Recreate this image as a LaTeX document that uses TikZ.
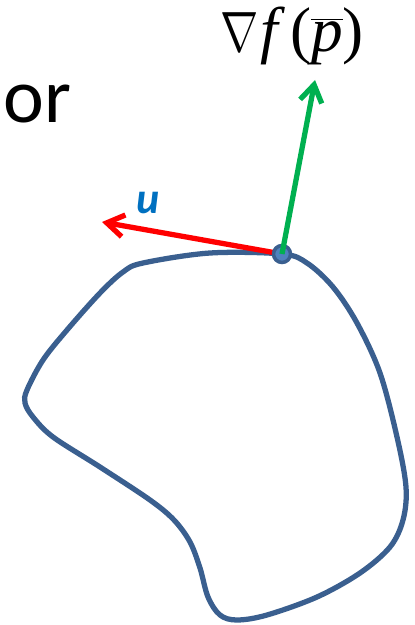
\documentclass[tikz,border=0pt]{standalone}
\usepackage{fontspec}
\newfontfamily\calibrifont{Carlito}
\newfontfamily\serifrm{Liberation Serif}
\usepackage{tikz}
\usetikzlibrary{arrows.meta, positioning}
\definecolor{blobcolor}{HTML}{3A5F8F}
\definecolor{dotfill}{HTML}{4F81BD}
\definecolor{gradgreen}{HTML}{00B050}
\definecolor{ublue}{HTML}{0070C0}

\begin{document}
\begin{tikzpicture}[
    x=0.02cm, y=-0.02cm,
    pt/.style={circle, fill=dotfill, draw=blobcolor, line width=2pt, inner sep=0pt, minimum size=0.34cm},
    lf/.style={inner sep=0pt, anchor=base west},
    vec/.style={line width=3pt, -{Straight Barb[length=0.34cm, width=0.44cm, line width=3pt]}},
    blob/.style={draw=blobcolor, line width=3pt}
  ]
    \useasboundingbox (0,0) rectangle (415,625);
    % region boundary
    \draw[blob] plot[smooth cycle, tension=0.55] coordinates {
      (282,254) (307,263) (333,287) (357,323) (380,373) (397,437) (406,487)
      (403,520) (390,547) (360,573) (317,597) (267,615) (237,620) (220,615)
      (208,597) (200,568) (190,542) (174,520) (150,500) (100,467) (53,437)
      (33,417) (25,403) (27,390) (43,360) (67,330) (100,293) (123,272)
      (143,263) (210,253)};
    \coordinate (p0) at (282,254);
    \coordinate (utip) at (102,222);
    \coordinate (gtip) at (315,80);
    \draw[vec, red] (p0) -- (utip);
    \node[pt] (p) at (p0) {};
    \draw[vec, gradgreen] (p.center) -- (gtip);
    \node[lf, font=\fontsize{44}{48}\selectfont\calibrifont] (or) at (3,122) {or};
    \node[lf, font=\fontsize{25}{28}\selectfont\calibrifont\bfseries\itshape, text=ublue] (u) at (136,213) {u};
    \node[lf, font=\fontsize{36}{40}\selectfont\serifrm] (grad) at (220,52)
      {\scalebox{1.05}[1.3]{$\nabla$}\kern1pt{\itshape f}\kern7pt($\overline{\hbox{\serifrm\itshape p}}$)};
\end{tikzpicture}
\end{document}
